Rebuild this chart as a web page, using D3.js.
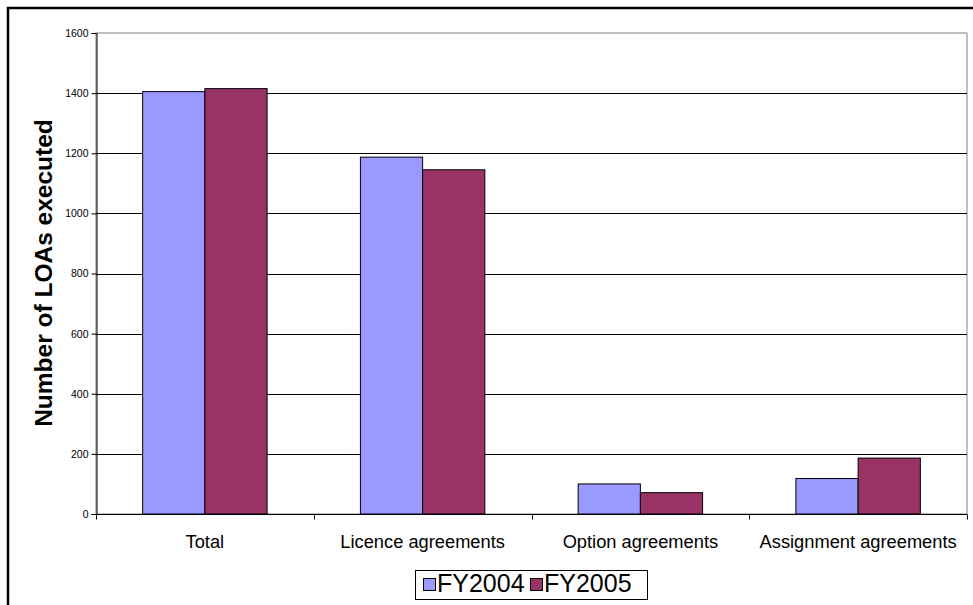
<!DOCTYPE html>
<html>
<head>
<meta charset="utf-8">
<script src="https://cdn.jsdelivr.net/npm/d3@7"></script>
<style>
  html, body { margin: 0; padding: 0; background: #fff; overflow: hidden; }
  svg { display: block; font-family: "Liberation Sans", Arial, sans-serif; }
</style>
</head>
<body>
<svg id="chart" width="973" height="605"></svg>
<script>
// Letters of agreement executed, by type and financial year
const categories = ["Total", "Licence agreements", "Option agreements", "Assignment agreements"];
const seriesNames = ["FY2004", "FY2005"];
const fy2004 = [1405, 1187, 100, 118];
const fy2005 = [1415, 1145, 71, 186];
const yTicks = [0, 200, 400, 600, 800, 1000, 1200, 1400, 1600];
const colors = ["#9999FF", "#993366"];

const svg = d3.select("#chart");
const W = 973, H = 605;
const plot = { left: 96, right: 967, top: 33, bottom: 514 };

// Outer chart frame
svg.append("rect")
  .attr("x", 8).attr("y", 8)
  .attr("width", W + 20).attr("height", H + 20)
  .attr("fill", "#fff").attr("stroke", "#000").attr("stroke-width", 2.5);

const x = d3.scaleBand().domain(categories).range([plot.left, plot.right]).paddingInner(0).paddingOuter(0);
const x1 = d3.scaleBand().domain(seriesNames).range([0, x.bandwidth()]).paddingInner(0).paddingOuter(0.75);
const y = d3.scaleLinear().domain([0, 1600]).range([plot.bottom, plot.top]);

// Plot area border (grey)
svg.append("rect")
  .attr("x", plot.left).attr("y", plot.top)
  .attr("width", plot.right - plot.left).attr("height", plot.bottom - plot.top)
  .attr("fill", "none").attr("stroke", "#808080").attr("stroke-width", 1);

// Horizontal gridlines
svg.append("g")
  .selectAll("line")
  .data(yTicks.filter(t => t > 0 && t < 1600))
  .join("line")
  .attr("x1", plot.left).attr("x2", plot.right)
  .attr("y1", d => Math.round(y(d)) + 0.5).attr("y2", d => Math.round(y(d)) + 0.5)
  .attr("stroke", "#000").attr("stroke-width", 1);

// Bars
const series = [fy2004, fy2005];
seriesNames.forEach((name, si) => {
  svg.append("g")
    .selectAll("rect")
    .data(categories.map((c, i) => ({ c, v: series[si][i] })))
    .join("rect")
    .attr("x", d => x(d.c) + x1(name))
    .attr("y", d => y(d.v))
    .attr("width", x1.bandwidth())
    .attr("height", d => y(0) - y(d.v))
    .attr("fill", colors[si])
    .attr("stroke", "#000").attr("stroke-width", 1);
});

// Y axis
const yAxis = d3.axisLeft(y).tickValues(yTicks).tickSize(5).tickPadding(3).tickFormat(d3.format("d"));
const gy = svg.append("g").attr("transform", `translate(${plot.left + 0.5},0)`).call(yAxis);
gy.select(".domain").attr("stroke", "#000");
gy.selectAll(".tick line").attr("stroke", "#000");
gy.selectAll(".tick text").attr("font-size", 10.5).attr("fill", "#000")
  .attr("font-family", "'Liberation Sans', Arial, sans-serif");

// X axis with ticks at category boundaries
const gx = svg.append("g").attr("transform", `translate(0,${plot.bottom + 0.5})`);
gx.append("line").attr("x1", plot.left).attr("x2", plot.right).attr("stroke", "#000");
const bounds = categories.map(c => x(c)).concat([x.range()[1]]);
gx.selectAll("line.tk").data(bounds).join("line").attr("class", "tk")
  .attr("x1", d => Math.round(d) + 0.5).attr("x2", d => Math.round(d) + 0.5)
  .attr("y1", 0).attr("y2", 5).attr("stroke", "#000");
gx.selectAll("text").data(categories).join("text")
  .attr("x", d => x(d) + x.bandwidth() / 2)
  .attr("y", 33)
  .attr("text-anchor", "middle")
  .attr("font-size", 18.3).attr("fill", "#000")
  .text(d => d);

// Y axis title
svg.append("text")
  .attr("transform", `translate(52,${(plot.top + plot.bottom) / 2 - 0.5}) rotate(-90)`)
  .attr("text-anchor", "middle")
  .attr("font-size", 24.5).attr("font-weight", "bold").attr("fill", "#000")
  .text("Number of LOAs executed");

// Legend
const lg = svg.append("g");
lg.append("rect").attr("x", 415.5).attr("y", 570.5).attr("width", 232).attr("height", 29)
  .attr("fill", "#fff").attr("stroke", "#000").attr("stroke-width", 1);
const legendItems = [
  { name: seriesNames[0], color: colors[0], sx: 423, tx: 437 },
  { name: seriesNames[1], color: colors[1], sx: 530, tx: 544 }
];
legendItems.forEach(it => {
  lg.append("rect").attr("x", it.sx + 0.5).attr("y", 578.5).attr("width", 12).attr("height", 12)
    .attr("fill", it.color).attr("stroke", "#000").attr("stroke-width", 1);
  lg.append("text").attr("x", it.tx).attr("y", 592)
    .attr("font-size", 25).attr("fill", "#000").text(it.name);
});
</script>
</body>
</html>
